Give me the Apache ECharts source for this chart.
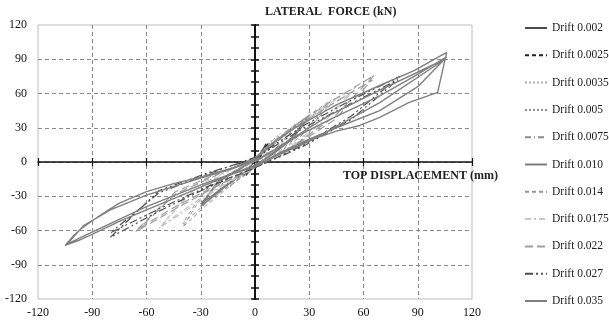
<!DOCTYPE html>
<html>
<head>
    <meta charset="UTF-8">
    <title>Hysteresis loops</title>
    <style>
        body{ margin:0; background:#fff; }
        #chart{ width:609px; height:324px; }
    </style>
</head>
<body>
    <div id="chart"></div>

    <script src="https://cdn.jsdelivr.net/npm/echarts@6/dist/echarts.min.js"></script>
    <script>
        // axis ticks
        var xTicks = [-120, -90, -60, -30, 0, 30, 60, 90, 120];
        var yTicks = [-120, -90, -60, -30, 0, 30, 60, 90, 120];

        var driftNames = ['Drift 0.002', 'Drift 0.0025', 'Drift 0.0035', 'Drift 0.005', 'Drift 0.0075',
            'Drift 0.010', 'Drift 0.014', 'Drift 0.0175', 'Drift 0.022', 'Drift 0.027', 'Drift 0.035'];

        // [displacement mm, force kN]
        var drift002 = [[0,-2],[2,3],[4,9],[6,16],[4,10],[2,5],[0,1],[-2,-3],[-4,-8],[-5,-12],[-3,-8],[-1,-4],[0,-2]];
        var drift0025 = [[0,-2],[2,2],[5,9],[7.5,17],[5,12],[2,6],[0,1],[-3,-4],[-5,-8],[-7,-13],[-5,-10],[-2,-6],[0,-2]];
        var drift0035 = [[0,-2],[3,4],[7,11],[10,20],[7,14],[3,8],[0,1],[-3,-4],[-7,-8],[-10,-16],[-7,-11],[-3,-6],[0,-2]];
        var drift005 = [[0,-3],[5,5],[9,13],[14,25],[9,18],[5,10],[0,1],[-5,-5],[-9,-10],[-14,-22],[-9,-15],[-5,-8],[0,-3]];
        var drift0075 = [[0,-3],[7,6],[15,17],[22,33],[15,24],[7,14],[0,2],[-7,-6],[-15,-13],[-22,-30],[-15,-20],[-7,-11],[0,-3],
            [7,5],[15,16],[22,31],[15,23],[7,13],[0,1],[-7,-5],[-15,-12],[-22,-28],[-15,-19],[-7,-10],[0,-3]];
        var drift010 = [[0,-4],[10,8],[20,21],[30,41],[20,29],[10,17],[0,3],[-10,-8],[-20,-17],[-30,-39],[-20,-26],[-10,-14],[0,-4],
            [10,7],[20,19],[30,39],[20,28],[10,16],[0,2],[-10,-7],[-20,-16],[-30,-37],[-20,-25],[-10,-13],[0,-4]];
        var drift014 = [[0,-4],[14,10],[28,28],[42,54],[28,39],[14,22],[0,3],[-13,-10],[-27,-24],[-40,-57],[-27,-38],[-13,-20],[0,-5],
            [14,9],[28,26],[42,51],[28,37],[14,20],[0,2],[-13,-9],[-27,-22],[-40,-54],[-27,-36],[-13,-19],[0,-5]];
        var drift0175 = [[0,-4],[19,13],[37,35],[56,66],[37,47],[19,28],[0,4],[-18,-11],[-35,-26],[-53,-58],[-35,-39],[-18,-21],[0,-5],
            [19,12],[37,33],[55,63],[37,45],[19,27],[0,3],[-18,-10],[-35,-24],[-52,-56],[-35,-37],[-18,-20],[0,-5]];
        var drift022 = [[0,-5],[22,15],[44,40],[66,76],[44,55],[22,32],[0,4],[-22,-12],[-44,-28],[-66,-61],[-44,-41],[-22,-22],[0,-5],
            [22,14],[44,37],[65,72],[44,52],[22,30],[0,3],[-22,-11],[-44,-26],[-65,-59],[-44,-39],[-22,-21],[0,-5]];
        var drift027 = [[0,-5],[27,15],[53,40],[80,75],[53,54],[27,32],[0,4],[-27,-11],[-53,-27],[-80,-62],[-53,-41],[-27,-22],[0,-5],
            [27,14],[53,37],[79,72],[53,51],[27,30],[0,3],[-27,-10],[-53,-25],[-80,-66],[-53,-43],[-27,-23],[0,-5]];
        var drift035 = [[0,-4],[15,8],[30,19],[45,27],[58,32],[69,39],[85,52],[101,61],[106,96],[88,80],[69,67],[45,50],[20,28],[8,14],[0,3],
            [-10,-4],[-30,-13],[-45,-19],[-60,-26],[-75,-36],[-85,-46],[-95,-57],[-100,-64],[-105,-73],[-98,-69],[-91,-64],[-75,-52],[-60,-42],[-45,-32],[-30,-22],[-15,-12],[0,-4],
            [15,9],[30,20],[45,30],[69,45],[90,66],[106,92],[88,75],[69,58],[45,40],[25,24],[0,1],
            [-15,-7],[-30,-14],[-60,-29],[-80,-42],[-95,-56],[-104,-72],[-91,-62],[-60,-39],[-30,-20],[0,-3],
            [30,18],[69,52],[105,90],[69,63],[40,40],[0,0]];

        var driftData = [drift002, drift0025, drift0035, drift005, drift0075, drift010, drift014, drift0175, drift022, drift027, drift035];

        var styles = [
            {color:'#4a4a4a', type:'solid', width:1.2},
            {color:'#222222', type:[4,3], width:1.2},
            {color:'#b0b0b0', type:[2,2], width:1},
            {color:'#909090', type:[2,2], width:1},
            {color:'#8a8a8a', type:[6,3,1,3], width:1},
            {color:'#7d7d7d', type:'solid', width:1.3},
            {color:'#959595', type:[4,3], width:1},
            {color:'#c8c8c8', type:[6,3,2,3], width:1.2},
            {color:'#a0a0a0', type:[8,4], width:1.2},
            {color:'#505050', type:[8,3,2,3,2,3], width:1.2},
            {color:'#808080', type:'solid', width:1.4}
        ];

        var serif = 'Liberation Serif';

        var series = driftNames.map(function (n, i) {
            return {
                name: n,
                type: 'line',
                xAxisIndex: 0,
                yAxisIndex: 0,
                data: driftData[i],
                symbol: 'none',
                lineStyle: styles[i],
                itemStyle: {color: styles[i].color},
                z: 3
            };
        });

        var option = {
            animation: false,
            textStyle: {fontFamily: serif},
            grid: {
                left: 38, right: 137, top: 25, bottom: 25,
                show: true, borderColor: '#bdbdbd', borderWidth: 1
            },
            legend: {
                orient: 'vertical',
                left: 524,
                top: 22,
                padding: 0,
                itemWidth: 22,
                itemHeight: 14,
                itemGap: 15.3,
                data: driftNames,
                itemStyle: {color: 'rgba(0,0,0,0)', borderWidth: 0, opacity: 0},
                textStyle: {fontFamily: serif, fontSize: 11.5, color: '#222', overflow: 'none', width: 80}
            },
            xAxis: [
                {
                    type: 'value', min: xTicks[0], max: xTicks[xTicks.length - 1], interval: 30,
                    position: 'bottom',
                    axisLine: {show: false, onZero: false},
                    axisTick: {show: false},
                    axisLabel: {fontFamily: serif, fontSize: 12, color: '#111', margin: 8},
                    splitLine: {show: true, showMinLine: false, showMaxLine: false,
                        lineStyle: {type: [4,3], color: '#8a8a8a', width: 1}}
                },
                {
                    type: 'value', min: xTicks[0], max: xTicks[xTicks.length - 1], interval: 30,
                    position: 'bottom',
                    axisLine: {show: true, onZero: true, onZeroAxisIndex: 0, lineStyle: {color: '#111', width: 1.5}},
                    axisTick: {show: true, length: 4, lineStyle: {color: '#111', width: 1.2}},
                    axisLabel: {show: false},
                    splitLine: {show: false},
                    name: 'TOP DISPLACEMENT (mm)',
                    nameLocation: 'end',
                    nameGap: 26,
                    nameTextStyle: {fontFamily: serif, fontWeight: 'bold', fontSize: 12, color: '#222',
                        align: 'right', verticalAlign: 'top', padding: [8,0,0,0]}
                },
                {
                    type: 'value', min: xTicks[0], max: xTicks[xTicks.length - 1], interval: 30,
                    position: 'bottom',
                    axisLine: {show: false, onZero: true, onZeroAxisIndex: 0},
                    axisTick: {show: true, inside: true, length: 4, lineStyle: {color: '#111', width: 1.2}},
                    axisLabel: {show: false},
                    splitLine: {show: false}
                }
            ],
            yAxis: [
                {
                    type: 'value', min: yTicks[0], max: yTicks[yTicks.length - 1], interval: 30,
                    position: 'left',
                    axisLine: {show: false, onZero: false},
                    axisTick: {show: false},
                    axisLabel: {fontFamily: serif, fontSize: 12, color: '#111', margin: 11},
                    splitLine: {show: true, showMinLine: false, showMaxLine: false,
                        lineStyle: {type: [4,3], color: '#8a8a8a', width: 1}}
                },
                {
                    type: 'value', min: yTicks[0], max: yTicks[yTicks.length - 1], interval: 10,
                    position: 'left',
                    axisLine: {show: true, onZero: true, onZeroAxisIndex: 0, lineStyle: {color: '#111', width: 2}},
                    axisTick: {show: true, length: 4, lineStyle: {color: '#111', width: 1.5}},
                    axisLabel: {show: false},
                    splitLine: {show: false},
                    name: 'LATERAL  FORCE (kN)',
                    nameLocation: 'end',
                    nameGap: 7,
                    nameTextStyle: {fontFamily: serif, fontWeight: 'bold', fontSize: 12, color: '#222',
                        align: 'left', padding: [0,0,0,10]}
                },
                {
                    type: 'value', min: yTicks[0], max: yTicks[yTicks.length - 1], interval: 10,
                    position: 'left',
                    axisLine: {show: false, onZero: true, onZeroAxisIndex: 0},
                    axisTick: {show: true, inside: true, length: 4, lineStyle: {color: '#111', width: 1.5}},
                    axisLabel: {show: false},
                    splitLine: {show: false}
                }
            ],
            series: series
        };

        var myChart = echarts.init(document.getElementById('chart'));
        myChart.setOption(option);
    </script>
</body>
</html>
